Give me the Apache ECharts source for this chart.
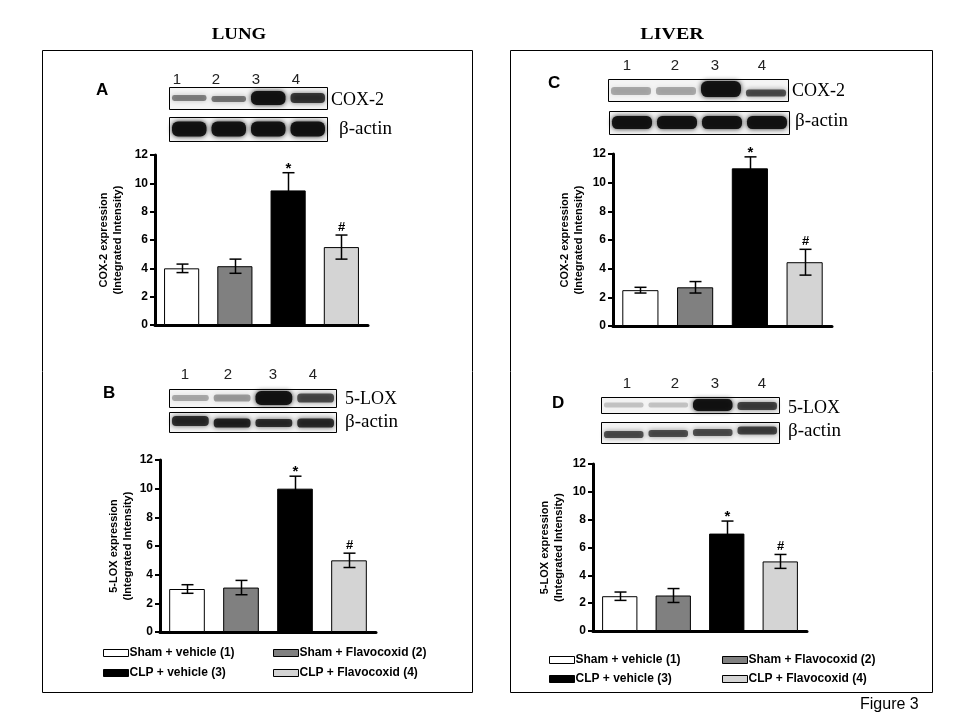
<!DOCTYPE html>
<html><head><meta charset="utf-8">
<script src="https://cdn.jsdelivr.net/npm/echarts@6/dist/echarts.min.js"></script>
<style>html,body{margin:0;padding:0;background:#fff}#c{width:960px;height:720px}</style>
</head><body><div id="c"></div>
<script>
// ---- data ----
const groups = ['Sham + vehicle (1)', 'Sham + Flavocoxid (2)', 'CLP + vehicle (3)', 'CLP + Flavocoxid (4)'];
const yTicks = [0, 2, 4, 6, 8, 10, 12];
const lungCox2Mean = [4.0, 4.15, 9.5, 5.5];
const lungCox2Sem = [0.3, 0.5, 1.25, 0.85];
const lung5loxMean = [3.0, 3.1, 10.0, 5.0];
const lung5loxSem = [0.3, 0.5, 0.87, 0.5];
const liverCox2Mean = [2.5, 2.7, 11.0, 4.45];
const liverCox2Sem = [0.2, 0.4, 0.8, 0.9];
const liver5loxMean = [2.5, 2.55, 7.0, 5.0];
const liver5loxSem = [0.3, 0.5, 0.9, 0.5];
const significance = ['', '', '*', '#'];
const laneLabels = ['1', '2', '3', '4'];
// western blot band densities (visual)
const lungCox2Bands = [0.45, 0.5, 0.95, 0.75];
const lungActinBands = [0.95, 0.95, 0.95, 0.95];
const lung5loxBands = [0.3, 0.35, 0.95, 0.65];
const lungActin2Bands = [0.8, 0.85, 0.8, 0.8];
const liverCox2Bands = [0.3, 0.3, 0.95, 0.65];
const liverActinBands = [0.95, 0.95, 0.95, 0.95];
const liver5loxBands = [0.2, 0.2, 0.95, 0.7];
const liverActin2Bands = [0.65, 0.65, 0.65, 0.7];

// ---- styles / layout ----
const groupColors = ['#ffffff', '#808080', '#000000', '#d4d4d4'];
const SANS = 'Arial, "Liberation Sans", sans-serif';
const SERIF = '"Times New Roman", "Liberation Serif", serif';

const panels = [
  { mean: lungCox2Mean, sem: lungCox2Sem, yName: 'COX-2 expression\n(Integrated Intensity)',
    grid: { left: 155, top: 155, width: 213, height: 170 }, nameGap: 30 },
  { mean: lung5loxMean, sem: lung5loxSem, yName: '5-LOX expression\n(Integrated Intensity)',
    grid: { left: 160, top: 460, width: 216, height: 172 }, nameGap: 25 },
  { mean: liverCox2Mean, sem: liverCox2Sem, yName: 'COX-2 expression\n(Integrated Intensity)',
    grid: { left: 613, top: 154, width: 219, height: 172 }, nameGap: 27 },
  { mean: liver5loxMean, sem: liver5loxSem, yName: '5-LOX expression\n(Integrated Intensity)',
    grid: { left: 593, top: 464, width: 214, height: 167 }, nameGap: 27 }
];

const grids = [], xAxes = [], yAxes = [], series = [];
panels.forEach((p, k) => {
  grids.push(Object.assign({ outerBoundsMode: 'none', containLabel: false }, p.grid));
  xAxes.push({
    type: 'category', gridIndex: k, data: groups,
    axisLine: { show: true, lineStyle: { color: '#000', width: 3 } },
    axisTick: { show: false }, axisLabel: { show: false }, splitLine: { show: false }
  });
  yAxes.push({
    type: 'value', gridIndex: k, min: yTicks[0], max: yTicks[yTicks.length - 1],
    interval: yTicks[1] - yTicks[0],
    axisLine: { show: true, lineStyle: { color: '#000', width: 3 } },
    axisTick: { show: true, length: 5, lineStyle: { color: '#000', width: 2 } },
    axisLabel: { color: '#000', fontFamily: SANS, fontWeight: 'bold', fontSize: 12, margin: 7 },
    splitLine: { show: false },
    name: p.yName, nameLocation: 'middle', nameRotate: 90, nameGap: p.nameGap,
    nameTextStyle: { color: '#000', fontFamily: SANS, fontWeight: 'bold', fontSize: 11, lineHeight: 14 }
  });
  groups.forEach((g, i) => {
    series.push({
      type: 'bar', name: g, xAxisIndex: k, yAxisIndex: k,
      data: p.mean.map((v, j) => (j === i ? v : '-')),
      barGap: '-100%', barCategoryGap: '34%',
      itemStyle: { color: groupColors[i], borderColor: '#000', borderWidth: 1 },
      z: 2, animation: false
    });
  });
  series.push({
    type: 'custom', name: 'err' + k, xAxisIndex: k, yAxisIndex: k, z: 5, animation: false,
    data: p.mean.map((v, j) => [j, v, p.sem[j]]),
    renderItem: function (params, api) {
      const i = api.value(0), m = api.value(1), s = api.value(2);
      const top = api.coord([i, m + s]), bot = api.coord([i, m - s]);
      const x = Math.round(top[0]) + 0.5, hw = 6;
      const st = { stroke: '#000', lineWidth: 1.5 };
      const ch = [
        { type: 'line', shape: { x1: x, y1: top[1], x2: x, y2: bot[1] }, style: st },
        { type: 'line', shape: { x1: x - hw, y1: top[1], x2: x + hw, y2: top[1] }, style: st },
        { type: 'line', shape: { x1: x - hw, y1: bot[1], x2: x + hw, y2: bot[1] }, style: st }
      ];
      const sg = significance[params.dataIndex];
      if (sg) {
        ch.push({ type: 'text', style: {
          text: sg, x: x, y: top[1] - (sg === '*' ? 4 : 8), align: 'center', verticalAlign: 'middle',
          font: 'bold ' + (sg === '*' ? 15 : 13) + 'px ' + SANS, fill: '#000' } });
      }
      return { type: 'group', children: ch };
    }
  });
});

function legendPair(left, top, items, gap) {
  return {
    left: left, top: top, orient: 'vertical', itemGap: gap, padding: 0,
    itemWidth: 25, itemHeight: 7, icon: 'rect', data: items,
    itemStyle: { borderColor: '#000', borderWidth: 1 },
    textStyle: { color: '#000', fontFamily: SANS, fontWeight: 'bold', fontSize: 12, lineHeight: 14, padding: [0, 0, 0, -4] },
    selectedMode: false
  };
}
const legends = [
  legendPair(103, 646, [groups[0], groups[2]], 6),
  legendPair(273, 646, [groups[1], groups[3]], 6),
  legendPair(549, 653, [groups[0], groups[2]], 5),
  legendPair(722, 653, [groups[1], groups[3]], 5)
];

// ---- graphics: boxes, titles, blots ----
const g = [];
function txt(text, x, y, font, align, extra) {
  g.push(Object.assign({ type: 'text', x: x, y: y, z: 10,
    style: { text: text, x: 0, y: 0, font: font, fill: '#000', align: align || 'left', verticalAlign: 'middle' } }, extra || {}));
}
function blot(x, y, w, h, dens, thick, shift) {
  g.push({ type: 'rect', z: 3, shape: { x: x + 0.5, y: y + 0.5, width: w, height: h },
    style: { fill: '#f4f4f4', stroke: '#000', lineWidth: 1 } });
  const lw = w / 4;
  dens.forEach((d, j) => {
    const t = thick[j];
    const c = 'rgba(15,15,15,' + d + ')';
    g.push({ type: 'rect', z: 4,
      shape: { x: x + j * lw + 3, y: y + h / 2 - t / 2 + (shift ? shift[j] : 0), width: lw - 5, height: t, r: t / 2.5 },
      style: { fill: c, shadowBlur: 5, shadowColor: c } });
  });
}
g.push({ type: 'rect', z: 1, shape: { x: 42.5, y: 50.5, width: 430, height: 642 }, style: { fill: 'none', stroke: '#000', lineWidth: 1 } });
g.push({ type: 'rect', z: 1, shape: { x: 510.5, y: 50.5, width: 422, height: 642 }, style: { fill: 'none', stroke: '#000', lineWidth: 1 } });
txt('LUNG', 239, 35, 'bold 16px ' + SERIF, 'center', { scaleX: 1.18 });
txt('LIVER', 672, 35, 'bold 16px ' + SERIF, 'center', { scaleX: 1.25 });
txt('Figure 3', 860, 705, '16px ' + SANS, 'left');
txt('A', 96, 90, 'bold 17px ' + SANS, 'left');
txt('B', 103, 393, 'bold 17px ' + SANS, 'left');
txt('C', 548, 83, 'bold 17px ' + SANS, 'left');
txt('D', 552, 403, 'bold 17px ' + SANS, 'left');
[[177, 216, 256, 296, 80], [185, 228, 273, 313, 375], [627, 675, 715, 762, 66], [627, 675, 715, 762, 384]].forEach(r => {
  laneLabels.forEach((l, j) => txt(l, r[j], r[4], '15px ' + SANS, 'center', { style: { text: l, x: 0, y: 0, font: '15px ' + SANS, fill: '#222', align: 'center', verticalAlign: 'middle' } }));
});
// Lung COX-2 blot (A)
blot(169, 87, 158, 22, lungCox2Bands, [6, 6, 14, 10], [0, 1, 0, 0]);
blot(169, 117, 158, 24, lungActinBands, [15, 15, 15, 15]);
txt('COX-2', 331, 100, '18px ' + SERIF, 'left');
txt('β-actin', 339, 129, '19px ' + SERIF, 'left');
// Lung 5-LOX blot (B)
blot(169, 389, 167, 18, lung5loxBands, [6, 7, 14, 9]);
blot(169, 412, 167, 20, lungActin2Bands, [10, 9, 8, 9], [-1, 1, 1, 1]);
txt('5-LOX', 345, 399, '18px ' + SERIF, 'left');
txt('β-actin', 345, 422, '19px ' + SERIF, 'left');
// Liver COX-2 blot (C)
blot(608, 79, 180, 22, liverCox2Bands, [8, 8, 16, 7], [1, 1, -1, 3]);
blot(609, 111, 180, 23, liverActinBands, [13, 13, 13, 13]);
txt('COX-2', 792, 91, '18px ' + SERIF, 'left');
txt('β-actin', 795, 121, '19px ' + SERIF, 'left');
// Liver 5-LOX blot (D)
blot(601, 397, 178, 16, liver5loxBands, [5, 5, 12, 8], [0, 0, 0, 1]);
blot(601, 422, 178, 21, liverActin2Bands, [7, 7, 7, 8], [2, 1, 0, -2]);
txt('5-LOX', 788, 408, '18px ' + SERIF, 'left');
txt('β-actin', 788, 431, '19px ' + SERIF, 'left');

const chart = echarts.init(document.getElementById('c'), null, { renderer: 'canvas' });
chart.setOption({
  backgroundColor: '#fff', animation: false,
  grid: grids, xAxis: xAxes, yAxis: yAxes, series: series,
  legend: legends, graphic: g
});
</script></body></html>
